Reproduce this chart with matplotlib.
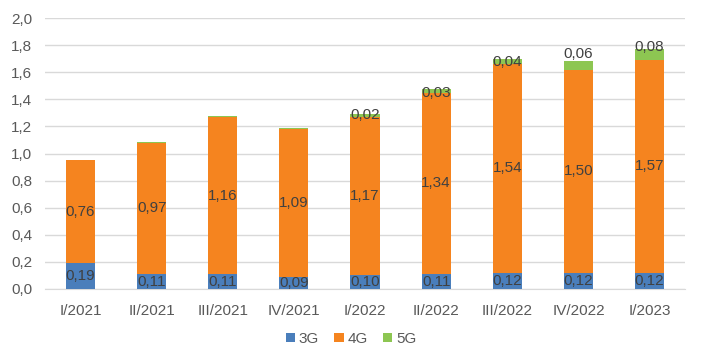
import numpy as np
import matplotlib
matplotlib.use('Agg')
import matplotlib.pyplot as plt
from matplotlib.ticker import FuncFormatter

quarters = ['I/2021', 'II/2021', 'III/2021', 'IV/2021', 'I/2022',
            'II/2022', 'III/2022', 'IV/2022', 'I/2023']
g3 = [0.19, 0.11, 0.11, 0.09, 0.10, 0.11, 0.12, 0.12, 0.12]
g4 = [0.76, 0.97, 1.16, 1.09, 1.17, 1.34, 1.54, 1.50, 1.57]
g5 = [0.006, 0.006, 0.006, 0.006, 0.02, 0.03, 0.04, 0.06, 0.08]
# first four 5G values are too small to carry a label in the original
g5_labels = ['', '', '', '', '0,02', '0,03', '0,04', '0,06', '0,08']
# vertical nudge of the 5G labels relative to the bar top (pixels)
g5_nudge = [0, 0, 0, 0, -1, -4, -3.3, 7.3, 2]

colors = {'3G': '#4a7ebb', '4G': '#f5841f', '5G': '#8dc652'}
txt = '#404040'
tick_col = '#595959'

plt.rcParams['font.family'] = ['Liberation Sans', 'DejaVu Sans']

fig = plt.figure(figsize=(7.02, 3.62), dpi=100)
ax = fig.add_axes([0.064, 0.2017, 0.912, 0.7483])

x = np.arange(len(quarters))
w = 0.41
b3 = ax.bar(x, g3, w, color=colors['3G'], label='3G', zorder=3)
b4 = ax.bar(x, g4, w, bottom=g3, color=colors['4G'], label='4G', zorder=3)
bottom5 = np.array(g3) + np.array(g4)
b5 = ax.bar(x, g5, w, bottom=bottom5, color=colors['5G'], label='5G', zorder=3)

fmt = lambda v: f'{v:.2f}'.replace('.', ',')
ax.bar_label(b3, labels=[fmt(v) for v in g3], label_type='center', color=txt, fontsize=11, zorder=4)
ax.bar_label(b4, labels=[fmt(v) for v in g4], label_type='center', color=txt, fontsize=11, zorder=4)
tops = bottom5 + np.array(g5)
for xi, top, lab, dy in zip(x, tops, g5_labels, g5_nudge):
    if lab:
        ax.annotate(lab, (xi, top), xytext=(0, dy * 0.72), textcoords='offset points',
                    ha='center', va='center', color=txt, fontsize=11, zorder=4)

ax.set_xlim(-0.5, len(quarters) - 0.5)
ax.set_ylim(0, 2.0)
ax.set_yticks(np.arange(0, 2.01, 0.2))
ax.yaxis.set_major_formatter(FuncFormatter(lambda v, p: f'{v:.1f}'.replace('.', ',')))
ax.set_xticks(x)
ax.set_xticklabels(quarters)
ax.tick_params(axis='both', length=0, colors=tick_col, labelsize=11)
ax.tick_params(axis='x', pad=11)
ax.tick_params(axis='y', pad=9)
ax.grid(axis='y', color='#d9d9d9', linewidth=1, zorder=0)
for s in ['top', 'right', 'left']:
    ax.spines[s].set_visible(False)
ax.spines['bottom'].set_color('#d9d9d9')

fig.legend(handles=[b3, b4, b5], labels=['3G', '4G', '5G'], loc='center',
           bbox_to_anchor=(0.5, 0.064), ncol=3, frameon=False,
           handlelength=0.6, handleheight=0.6, handletextpad=0.25,
           columnspacing=1.0, fontsize=11, labelcolor=tick_col)

plt.savefig('out.png', dpi=100)
